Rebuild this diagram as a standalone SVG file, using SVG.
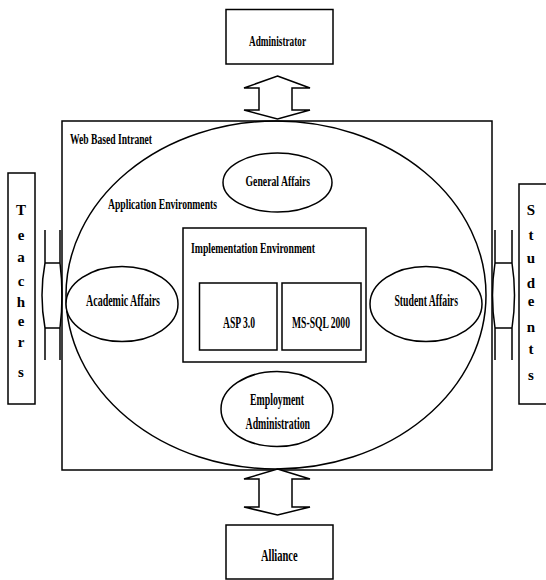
<svg xmlns="http://www.w3.org/2000/svg" width="546" height="580" viewBox="0 0 546 580">
<style>
.s{fill:none;stroke:#000;stroke-width:1.5}
.w{fill:#fff;stroke:#000;stroke-width:1.5}
text{font-family:"Liberation Serif","Times New Roman",serif;font-weight:bold;font-size:15px;fill:#000}
.m{text-anchor:middle}
.b{font-size:17px}
</style>
<rect width="546" height="580" fill="#fff"/>
<g id="intranet">
<rect class="s" x="62" y="121" width="430" height="349"/>
<text x="70" y="144" textLength="82" lengthAdjust="spacingAndGlyphs">Web Based Intranet</text>
</g>
<g id="application-environments">
<ellipse class="s" cx="276" cy="295" rx="210" ry="174"/>
<text x="108" y="209" textLength="109" lengthAdjust="spacingAndGlyphs">Application Environments</text>
</g>
<g id="general-affairs">
<ellipse class="w" cx="277.5" cy="182.5" rx="54.5" ry="29.5"/>
<text class="m" x="277.8" y="186" textLength="64.5" lengthAdjust="spacingAndGlyphs">General Affairs</text>
</g>
<g id="academic-affairs">
<ellipse class="w" cx="122" cy="304" rx="56" ry="37.5"/>
<text class="m b" x="123" y="306" textLength="74" lengthAdjust="spacingAndGlyphs">Academic Affairs</text>
</g>
<g id="student-affairs">
<ellipse class="w" cx="426" cy="304" rx="56" ry="37.5"/>
<text class="m b" x="426.2" y="306" textLength="63.5" lengthAdjust="spacingAndGlyphs">Student Affairs</text>
</g>
<g id="employment-administration">
<ellipse class="w" cx="277" cy="409" rx="56" ry="37.5"/>
<text class="m" x="277" y="405" style="font-size:16px" textLength="54" lengthAdjust="spacingAndGlyphs">Employment</text>
<text class="m" x="277.8" y="429" style="font-size:16px" textLength="64.5" lengthAdjust="spacingAndGlyphs">Administration</text>
</g>
<g id="implementation-environment">
<rect class="w" x="183" y="228" width="183" height="134"/>
<text x="191" y="253" textLength="124" lengthAdjust="spacingAndGlyphs">Implementation Environment</text>
</g>
<g id="asp">
<rect class="s" x="199.5" y="283" width="77.5" height="67"/>
<text class="m b" x="239" y="328" textLength="32" lengthAdjust="spacingAndGlyphs">ASP 3.0</text>
</g>
<g id="mssql">
<rect class="s" x="282" y="283" width="79" height="67"/>
<text class="m b" x="321" y="328" textLength="58" lengthAdjust="spacingAndGlyphs">MS-SQL 2000</text>
</g>
<g id="administrator">
<rect class="s" x="226" y="9.5" width="107" height="54.5"/>
<text class="m" x="277.5" y="46" textLength="57" lengthAdjust="spacingAndGlyphs">Administrator</text>
</g>
<g id="alliance">
<rect class="s" x="226" y="525" width="107" height="54"/>
<text class="m b" x="279.3" y="561" textLength="36.7" lengthAdjust="spacingAndGlyphs">Alliance</text>
</g>
<g id="teachers">
<rect class="s" x="8" y="173" width="27" height="231"/>
<text class="m" x="21" y="215">T</text>
<text class="m" x="21" y="240">e</text>
<text class="m" x="21" y="262">a</text>
<text class="m" x="21" y="286">c</text>
<text class="m" x="21" y="307">h</text>
<text class="m" x="21" y="326">e</text>
<text class="m" x="21" y="347">r</text>
<text class="m" x="21" y="377">s</text>
</g>
<g id="students">
<rect class="s" x="519" y="184" width="40" height="220"/>
<text class="m" x="531" y="215">S</text>
<text class="m" x="531" y="240">t</text>
<text class="m" x="531" y="263">u</text>
<text class="m" x="531" y="288">d</text>
<text class="m" x="531" y="306">e</text>
<text class="m" x="531" y="332">n</text>
<text class="m" x="531" y="354">t</text>
<text class="m" x="531" y="380">s</text>
</g>
<g id="connectors">
<path class="w" d="M277.5,76 L310,88 L292,88 L292,110 L310,110 L277.5,119 L244,110 L259,110 L259,88 L244,88 Z"/>
<path class="w" d="M277.5,469 L310,479 L292,479 L292,507 L310,507 L277.5,515 L244,507 L259,507 L259,479 L244,479 Z"/>
<path class="s" d="M45,230 V263 H60 V230 M45,360 V328 H60 V360 M45,263 Q39,295 45,328 M60,263 Q64,295 60,328"/>
<path class="s" d="M495,230 V263 H512 V230 M495,360 V328 H512 V360 M495,263 Q490,295 495,328 M512,263 Q517,295 512,328"/>
</g>
</svg>
